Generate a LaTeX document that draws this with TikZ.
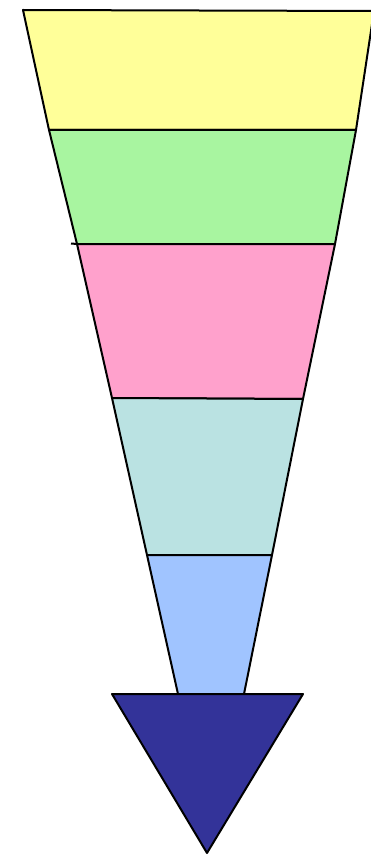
\documentclass[tikz,border=0pt]{standalone}
\definecolor{cyellow}{RGB}{255,255,153}
\definecolor{cgreen}{RGB}{168,245,160}
\definecolor{cpink}{RGB}{255,161,204}
\definecolor{cteal}{RGB}{186,226,226}
\definecolor{cblue}{RGB}{160,196,255}
\definecolor{cnavy}{RGB}{51,51,153}
\begin{document}
\begin{tikzpicture}[x=1pt,y=-1pt,
  layer/.style={draw=black,line width=2pt,line join=round}]
\useasboundingbox (0,0) rectangle (371,856);
\clip (0,0) rectangle (371,856);
\fill[white] (0,0) rectangle (371,856);
% layers
\path[layer,fill=cyellow] (23,10) -- (374,11) -- (356,130) -- (49,130) -- cycle;
\path[layer,fill=cgreen] (49,130) -- (356,130) -- (335,244) -- (77,244) -- cycle;
\path[layer,fill=cpink] (77,244) -- (335,244) -- (303,399) -- (112,398) -- cycle;
\path[layer,fill=cteal] (112,398) -- (303,399) -- (272,555) -- (147,555) -- cycle;
\path[layer,fill=cblue] (147,555) -- (272,555) -- (244,694) -- (178,694) -- cycle;
% stub at the pink top
\draw[line width=2pt] (71,243.5) -- (77,244);
% arrow head
\path[layer,fill=cnavy] (112,694) -- (303,694) -- (207,853) -- cycle;
\end{tikzpicture}
\end{document}
